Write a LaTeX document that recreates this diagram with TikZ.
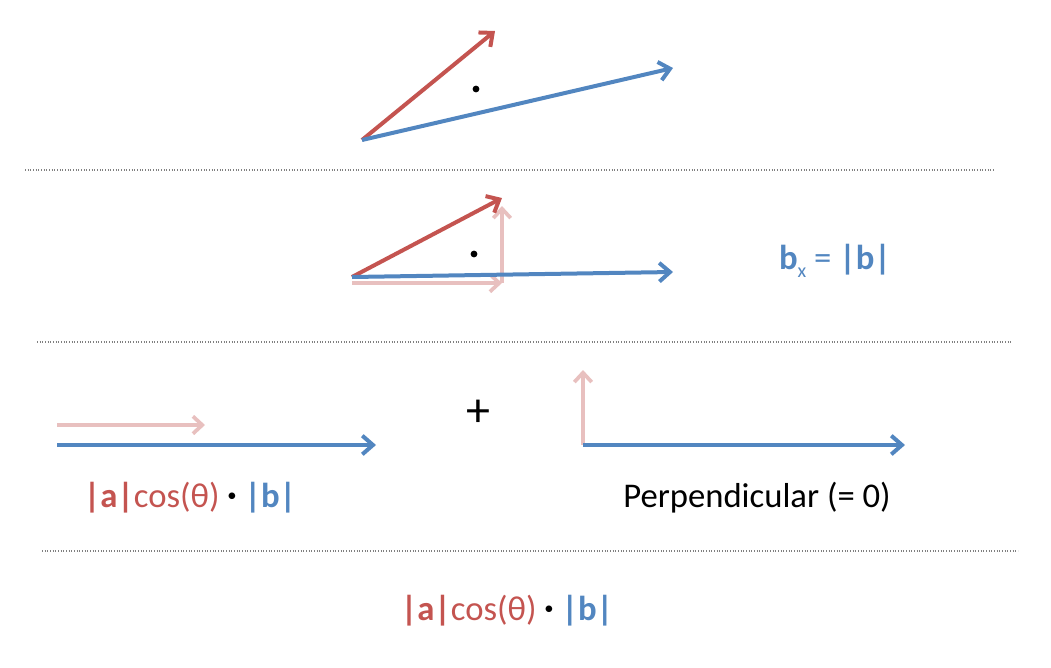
\documentclass[tikz,border=0pt]{standalone}
\usepackage{fontspec}
\setmainfont{Carlito}
\usepackage{xcolor}
\usetikzlibrary{arrows.meta,positioning}

\definecolor{vecred}{RGB}{196,84,80}
\definecolor{vecblue}{RGB}{82,134,192}
\definecolor{vecpale}{RGB}{232,192,191}

\newcommand{\dotop}{\raisebox{0.18em}{\fontsize{14}{14}\selectfont\textcolor{black}{•}}}

\begin{document}
\begin{tikzpicture}[x=0.75pt, y=-0.75pt, font=\fontsize{26}{30}\selectfont]
    % Define styles
    \tikzstyle{redvec} = [draw=vecred, line width=3pt, -{Straight Barb[length=8pt, width=14pt]}]
    \tikzstyle{bluevec} = [draw=vecblue, line width=3pt, -{Straight Barb[length=8pt, width=14pt]}]
    \tikzstyle{palevec} = [draw=vecpale, line width=2.8pt, -{Straight Barb[length=7pt, width=13pt]}]
    \tikzstyle{divider} = [draw=gray, line width=0.8pt, dash pattern=on 0.8pt off 1.2pt]
    \tikzstyle{label} = [inner sep=0pt, anchor=center]

    \useasboundingbox (0,0) rectangle (1051,668);

    % Points
    \coordinate (o1) at (362,140);
    \coordinate (a1) at (495,31);
    \coordinate (b1) at (673,68);
    \coordinate (o2) at (352,277);
    \coordinate (a2) at (502,198);
    \coordinate (b2) at (673,272);
    \coordinate (p2) at (502,283);
    \coordinate (p2top) at (502,206);
    \coordinate (o2p) at (352,283);
    \coordinate (o3) at (57,445);
    \coordinate (b3) at (376,445);
    \coordinate (o3p) at (57,425);
    \coordinate (a3) at (205,425);
    \coordinate (o4) at (583,445);
    \coordinate (b4) at (905,445);
    \coordinate (a4) at (583,370);
    \coordinate (l1w) at (25,170);
    \coordinate (l1e) at (995,170);
    \coordinate (l2w) at (37,342);
    \coordinate (l2e) at (1012,342);
    \coordinate (l3w) at (42,551);
    \coordinate (l3e) at (1018,551);

    % Nodes
    \node[label, text=vecblue] (bx) at (835,261) {\textbf{b}\raisebox{-0.25em}{\fontsize{15}{15}\selectfont x} = \textbf{|b|}};
    \node[label] (plus) at (478,413) {\fontsize{36}{36}\selectfont +};
    \node[label] (proj) at (190,498) {\textcolor{vecred}{\textbf{|a|}cos(θ)} \dotop{} \textcolor{vecblue}{\textbf{|b|}}};
    \node[label] (perp) at (757,498) {Perpendicular (= 0)};
    \node[label] (result) at (507,611) {\textcolor{vecred}{\textbf{|a|}cos(θ)} \dotop{} \textcolor{vecblue}{\textbf{|b|}}};

    % Dividers
    \draw[divider] (l1w) -- (l1e);
    \draw[divider] (l2w) -- (l2e);
    \draw[divider] (l3w) -- (l3e);

    % Connections
    \draw[redvec] (o1) -- (a1);
    \draw[bluevec] (o1) -- (b1);
    \fill (476,89) circle (3.4);

    \draw[palevec] (o2p) -- (p2);
    \draw[palevec] (p2) -- (p2top);
    \draw[redvec] (o2) -- (a2);
    \draw[bluevec] (o2) -- (b2);
    \fill (474,254) circle (3.4);

    \draw[palevec] (o3p) -- (a3);
    \draw[bluevec] (o3) -- (b3);
    \draw[palevec] (o4) -- (a4);
    \draw[bluevec] (o4) -- (b4);
\end{tikzpicture}
\end{document}
